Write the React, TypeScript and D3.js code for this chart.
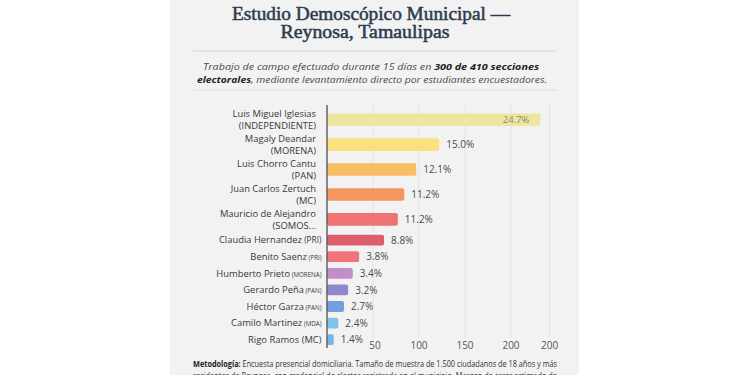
import React from "react";
import * as d3 from "d3";

// ---- data ----
const candidates = [
  "Luis Miguel Iglesias",
  "Magaly Deandar",
  "Luis Chorro Cantu",
  "Juan Carlos Zertuch",
  "Mauricio de Alejandro",
  "Claudia Hernandez",
  "Benito Saenz",
  "Humberto Prieto",
  "Gerardo Peña",
  "Héctor Garza",
  "Camilo Martinez",
  "Rigo Ramos",
];
const parties = [
  "(INDEPENDIENTE)",
  "(MORENA)",
  "(PAN)",
  "(MC)",
  "(SOMOS...",
  "(PRI)",
  "(PRI)",
  "(MORENA)",
  "(PAN)",
  "(PAN)",
  "(MDA)",
  "(MC)",
];
// bar lengths as read against the drawn axis (axis units)
const barValues = [232, 122, 97, 84, 77, 62, 35, 28, 23, 18.5, 12.3, 7.3];
// printed percentage labels
const pctLabels = ["24.7%", "15.0%", "12.1%", "11.2%", "11.2%", "8.8%", "3.8%", "3.4%", "3.2%", "2.7%", "2.4%", "1.4%"];
const barColors = [
  "#ece69e", "#fbe07e", "#f8be62", "#f5975c", "#ee7372", "#dc5f6b",
  "#f1747b", "#c28ec7", "#8d88cd", "#719fdf", "#80c2e9", "#72b6ea",
];
const tickValues = [50, 100, 150, 200, 242];
const tickLabels = ["50", "100", "150", "200", "200"];

const W = 750;
const H = 375;

export default function App() {
  const x = d3.scaleLinear().domain([0, 240]).range([327, 327 + 240 * 0.92]);
  // row weights: two-line labels take more room
  const weights = candidates.map((_, i) => (i < 5 ? 1.5 : 1));
  const cum: number[] = [];
  let acc = 0;
  weights.forEach((w) => {
    cum.push(acc + w / 2);
    acc += w;
  });
  const y = d3.scaleLinear().domain([0, acc]).range([107.3, 107.3 + acc * 16.6]);

  const sans = "'Open Sans', 'Lato', sans-serif";
  const tickY = 349;

  return (
    <svg
      width={W}
      height={H}
      style={{ position: "absolute", left: 0, top: 0, display: "block" }}
    >
      <rect x={0} y={0} width={W} height={H} fill="#ffffff" />
      <rect x={170} y={0} width={409} height={H} fill="#f3f2f2" />

      {/* Title */}
      <g
        fontFamily="'Liberation Serif', 'DejaVu Serif', serif"
        fill="#2c3b50"
        stroke="#2c3b50"
        strokeWidth={0.5}
        fontWeight={400}
        textAnchor="middle"
      >
        <text x={371} y={19.5} fontSize={18} textLength={278} lengthAdjust="spacingAndGlyphs">
          Estudio Demoscópico Municipal —
        </text>
        <text x={365} y={37.5} fontSize={18} textLength={169} lengthAdjust="spacingAndGlyphs">
          Reynosa, Tamaulipas
        </text>
      </g>
      <line x1={193} x2={557} y1={51} y2={51} stroke="#d6d6d6" strokeWidth={1} />
      <g fontFamily="'Open Sans', sans-serif" fontStyle="italic" fill="#4a4a4a" fontSize={9.6} textAnchor="middle">
        <text x={371} y={70} textLength={336} lengthAdjust="spacingAndGlyphs">
          Trabajo de campo efectuado durante 15 días en{" "}
          <tspan fontWeight={700} fill="#222">300 de 410  secciones</tspan>
        </text>
        <text x={372} y={83} textLength={350} lengthAdjust="spacingAndGlyphs">
          <tspan fontWeight={700} fill="#222">electorales</tspan>, mediante levantamiento directo por estudiantes encuestadores.
        </text>
      </g>
      <line x1={193} x2={557} y1={90} y2={90} stroke="#dcdcdc" strokeWidth={1} />

      {/* gridlines */}
      {tickValues.map((t, i) => (
        <line key={"g" + i} x1={x(t)} x2={x(t)} y1={105} y2={338} stroke="#e3e2e2" strokeWidth={1} />
      ))}

      {/* bars */}
      {barValues.map((v, i) => {
        const c = y(cum[i]);
        const h = i < 5 ? 12.6 : 10.8;
        return (
          <rect
            key={"b" + i}
            x={x(0)}
            y={c - h / 2}
            width={x(v) - x(0)}
            height={h}
            rx={2}
            fill={barColors[i]}
          />
        );
      })}

      {/* value labels */}
      {barValues.map((v, i) => {
        const c = y(cum[i]);
        const inside = i === 0;
        return (
          <text
            key={"v" + i}
            x={inside ? x(v) - 11 : x(v) + 7}
            y={c + 3.6}
            fontFamily={sans}
            fontSize={inside ? 9.5 : 10}
            fill={inside ? "#8b8a78" : "#4a4a4a"}
            textAnchor={inside ? "end" : "start"}
          >
            {pctLabels[i]}
          </text>
        );
      })}

      {/* axis line */}
      <line x1={x(0)} x2={x(0)} y1={105} y2={348} stroke="#5a5a5a" strokeWidth={1.4} />

      {/* category labels */}
      <g fontFamily={sans} fill="#383838" fontSize={9.4}>
        {candidates.map((name, i) => {
          const c = y(cum[i]);
          if (i < 5) {
            return (
              <g key={"l" + i} textAnchor="end">
                <text x={316} y={c - 2.4}>{name}</text>
                <text x={316} y={c + 9.2}>{parties[i]}</text>
              </g>
            );
          }
          const partySize = i === 5 ? 8.3 : i === 11 ? 9.4 : 6.2;
          return (
            <text key={"l" + i} x={321.5} y={c + 3.2} textAnchor="end">
              {name}
              <tspan fontSize={partySize}> {parties[i]}</tspan>
            </text>
          );
        })}
      </g>

      {/* ticks */}
      {tickValues.map((t, i) => (
        <text
          key={"t" + i}
          x={x(t) + (i === 0 ? 2 : 0)}
          y={tickY}
          fontFamily={sans}
          fontSize={10}
          fill="#555"
          textAnchor="middle"
        >
          {tickLabels[i]}
        </text>
      ))}

      {/* methodology */}
      <g fontFamily={sans} fontSize={8.2} fill="#333">
        <text x={193} y={367} textLength={364} lengthAdjust="spacingAndGlyphs">
          <tspan fontWeight={700} fill="#222">Metodología:</tspan> Encuesta presencial domiciliaria. Tamaño de muestra de 1.500 ciudadanos de 18 años y más
        </text>
        <text x={193} y={378.5} textLength={364} lengthAdjust="spacingAndGlyphs">
          residentes de Reynosa, con credencial de elector registrada en el municipio. Margen de error estimado de
        </text>
      </g>
    </svg>
  );
}
